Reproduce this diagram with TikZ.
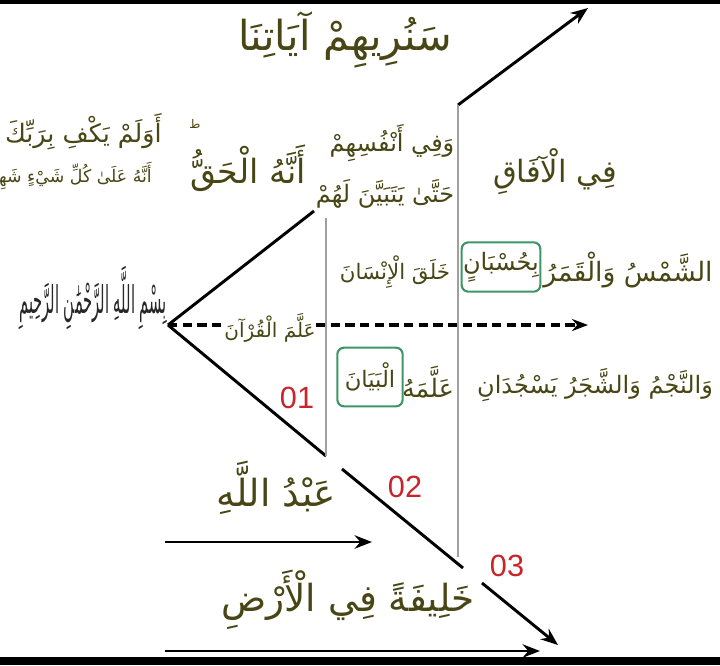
\documentclass[tikz,border=0pt]{standalone}
\usepackage{fontspec}
\setmainfont{Liberation Sans}
\newfontfamily\arabicfont[Script=Arabic]{DejaVu Sans}
\TeXXeTstate=1
\usetikzlibrary{arrows.meta}
\definecolor{ink}{RGB}{72,70,20}
\definecolor{nred}{RGB}{200,36,42}
\definecolor{grn}{RGB}{62,150,104}

\begin{document}
\begin{tikzpicture}[
  x=0.75pt, y=-0.75pt, >=Stealth,
  ar/.style={text=ink, inner sep=0pt, font=\arabicfont\fontsize{#1}{#1}\selectfont},
  nm/.style={text=nred, inner sep=0pt, font=\fontsize{23}{23}\selectfont},
  bx/.style={draw=grn, line width=1.6pt, rounded corners=5pt},
  ln/.style={line width=2.2pt},
  ar2/.style={line width=2.2pt, -{Stealth[length=13pt, width=10pt]}},
  vl/.style={gray!75, line width=1pt},
  dl/.style={line width=2.5pt, dash pattern=on 7pt off 4pt}]

\useasboundingbox (0,0) rectangle (720,665);
\fill[black] (0,0) rectangle (720,4);
\fill[black] (0,657) rectangle (720,665);

% ---- frame of lines ----
\coordinate (apex) at (168,325);
\coordinate (u1) at (314,211);
\coordinate (u2) at (458,105);
\coordinate (u3) at (588,8);
\coordinate (l1) at (326,456);
\coordinate (l2) at (342,469);
\coordinate (l3) at (463,568);
\coordinate (l4) at (482,583);
\coordinate (l5) at (558,645);
\coordinate (v1) at (326,218);
\coordinate (v2) at (458,557);
\coordinate (dend) at (588,325);
\draw[ln] (apex)--(u1);
\draw[ar2] (u2)--(u3);
\draw[ln] (apex)--(l1);
\draw[ln] (l2)--(l3);
\draw[ar2] (l4)--(l5);
\draw[vl] (v1)--(l1);
\draw[vl] (u2)--(v2);

% ---- texts, top ----
\node[ar=31] (ttl) at (345,40) {\beginR سَنُرِيهِمْ آيَاتِنَا\endR};
\node[ar=19, anchor=east] (q1) at (162,132) {\beginR أَوَلَمْ يَكْفِ بِرَبِّكَ\endR};
\node[ar=13, anchor=east] (q2) at (152,176) {\beginR أَنَّهُ عَلَىٰ كُلِّ شَيْءٍ شَهِيدٌ\endR};
\node[ar=25] (haq) at (248,168) {\beginR أَنَّهُ الْحَقُّ\endR};
\node[ar=9] (ta) at (195,124) {\beginR ط\endR};
\node[ar=18] (nfs1) at (392,143) {\beginR وَفِي أَنْفُسِهِمْ\endR};
\node[ar=18] (nfs2) at (385,194) {\beginR حَتَّىٰ يَتَبَيَّنَ لَهُمْ\endR};
\node[ar=23] (afq) at (555,172) {\beginR فِي الْآفَاقِ\endR};

% ---- middle rows ----
\node[text=black!85, inner sep=0pt, font=\arabicfont\fontsize{11}{11}\selectfont] (bism) at (93,298)
  {\scalebox{1}[2.6]{\beginR بِسْمِ اللَّهِ الرَّحْمَٰنِ الرَّحِيمِ\endR}};
\node[ar=15] (qrn) at (270,328) {\beginR عَلَّمَ الْقُرْآنَ\endR};
\node[ar=16] (ins) at (395,272) {\beginR خَلَقَ الْإِنْسَانَ\endR};
\node[ar=20] (shms) at (628,270) {\beginR الشَّمْسُ وَالْقَمَرُ\endR};
\node[ar=18, bx, minimum width=59pt, minimum height=37pt] (hsb) at (501,267) {\beginR بِحُسْبَانٍ\endR};
\node[ar=19] (allm) at (428,382) {\beginR عَلَّمَهُ\endR};
\node[ar=17, bx, minimum width=49pt, minimum height=44pt] (byn) at (370,377) {\beginR الْبَيَانَ\endR};
\node[ar=18] (njm) at (595,385) {\beginR وَالنَّجْمُ وَالشَّجَرُ يَسْجُدَانِ\endR};
\draw[dl] (apex)--(apex -| qrn.west);
\draw[dl, -{Stealth[length=12pt, width=9pt]}] (apex -| qrn.east)--(dend);

% ---- numbers and bottom ----
\node[nm] (n1) at (297,398) {01};
\node[nm] (n2) at (405,487) {02};
\node[nm] (n3) at (507,566) {03};
\node[ar=28] (abd) at (276,488) {\beginR عَبْدُ اللَّهِ\endR};
\node[ar=28] (khl) at (348,600) {\beginR خَلِيفَةً فِي الْأَرْضِ\endR};
\coordinate (a1s) at (165,542);
\coordinate (a1e) at (372,542);
\coordinate (a2s) at (165,651);
\coordinate (a2e) at (540,651);
\draw[ar2] (a1s)--(a1e);
\draw[ar2] (a2s)--(a2e);
\end{tikzpicture}
\end{document}
